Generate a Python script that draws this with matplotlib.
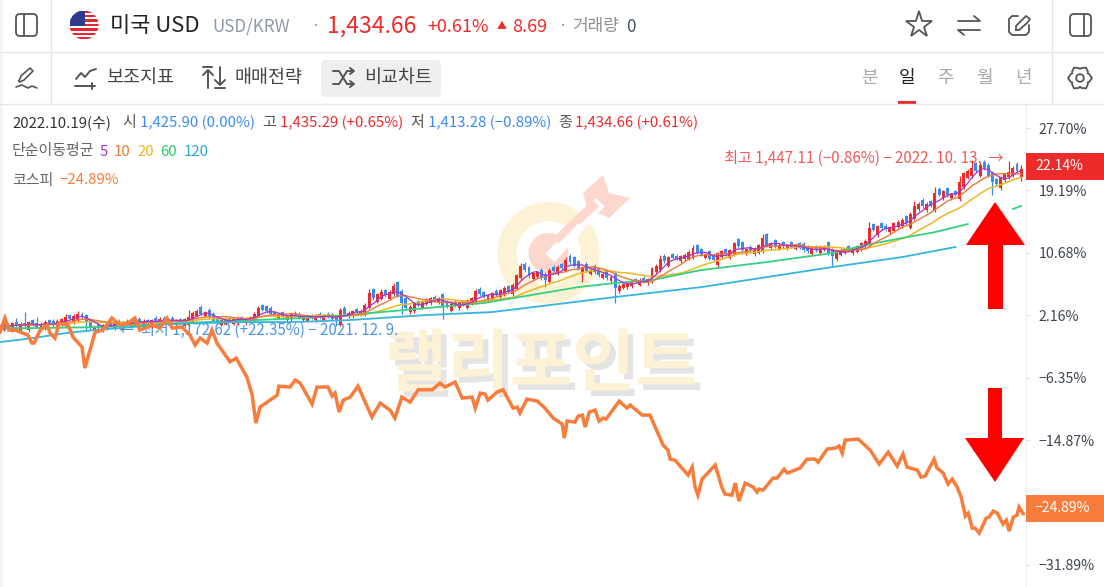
import numpy as np
import pandas as pd
import matplotlib
matplotlib.use('Agg')
import matplotlib.pyplot as plt
import matplotlib.patheffects as pe
from matplotlib.patches import Circle, FancyBboxPatch, Polygon, Rectangle

plt.rcParams['font.family'] = ['Noto Sans CJK KR', 'DejaVu Sans']

RED = '#ee2b2b'
BLUE = '#3a8bf0'
ORANGE = '#f87d3c'

# daily closes in % against the base price, one row per 25 candles
closes = [
    0.6, 0.9, 0.5, 1.1, 0.8, 1.0, 0.7, 1.2, 0.9, 0.6, 1.0, 1.3, 1.1, 0.8, 1.4, 1.6, 1.9, 1.7, 2.1, 2.3, 1.9, 1.2, 0.4, 0.6, 0.5,
    0.8, 1.0, 0.7, 1.1, 0.9, 1.2, 1.0, 1.3, 1.5, 1.2, 1.4, 1.1, 1.5, 1.3, 1.7, 1.4, 1.6, 1.3, 1.5, 1.2, 1.6, 1.9, 2.5, 2.8, 2.4,
    2.6, 1.9, 1.3, 1.2, 1.5, 1.7, 1.4, 1.6, 1.8, 1.5, 1.7, 1.9, 2.4, 3.1, 2.9, 2.7, 2.3, 2.1, 2.2, 1.9, 2.0, 2.3, 2.1, 1.8, 2.0,
    2.0, 1.8, 2.1, 1.9, 2.2, 2.0, 1.7, 1.5, 2.9, 2.4, 2.5, 2.7, 2.6, 2.8, 3.6, 5.2, 4.5, 5.0, 5.3, 4.9, 5.4, 6.2, 4.8, 3.9, 3.2,
    3.3, 3.8, 3.6, 4.1, 4.3, 4.5, 4.3, 4.5, 3.4, 3.3, 3.7, 3.5, 3.8, 3.6, 4.2, 4.5, 5.5, 5.0, 4.7, 4.9, 5.2, 5.0, 5.6, 5.9, 5.4,
    6.3, 7.6, 8.9, 8.3, 7.5, 7.9, 8.0, 7.2, 7.0, 8.4, 8.2, 8.8, 8.6, 9.7, 9.4, 8.9, 8.5, 8.7, 8.2, 8.4, 8.0, 7.6, 7.8, 7.2, 7.4,
    5.9, 6.2, 6.4, 6.5, 6.8, 6.7, 7.0, 6.8, 7.1, 8.6, 8.9, 9.8, 9.5, 10.1, 10.0, 9.9, 10.2, 10.4, 10.8, 11.3, 10.7, 10.4, 10.5, 9.9, 9.7,
    10.6, 10.9, 10.5, 11.0, 12.0, 11.6, 11.0, 11.2, 10.9, 11.3, 11.7, 12.7, 11.8, 12.0, 11.5, 11.8, 11.6, 11.7, 11.5, 11.6, 11.4, 11.0, 10.9, 11.2, 11.0,
    11.5, 11.6, 10.6, 10.2, 10.7, 11.1, 11.2, 11.0, 11.3, 11.6, 12.0, 12.3, 14.1, 13.8, 14.3, 14.0, 13.9, 14.2, 14.7, 14.9, 15.2, 14.7, 16.0, 17.1, 17.4,
    17.0, 17.4, 17.1, 18.9, 18.6, 19.1, 18.5, 18.7, 18.6, 20.3, 21.5, 21.9, 22.3, 21.8, 22.6, 22.2, 21.2, 20.3, 20.0, 21.0, 21.4, 21.7, 22.3, 21.9, 22.14,
]
# candle body heights in %
bodies = [
    0.5, 0.7, 0.4, 1.0, 0.5, 0.9, 0.4, 1.1, 0.6, 0.5, 0.8, 0.9, 0.4, 0.6, 1.0, 0.7, 1.2, 0.5, 0.9, 0.8, 0.5, 1.0, 1.1, 0.4, 0.5,
    0.7, 0.6, 0.4, 0.8, 0.5, 0.9, 0.4, 0.7, 0.6, 0.5, 0.6, 0.4, 0.9, 0.5, 0.8, 0.4, 0.6, 0.5, 0.7, 0.4, 0.9, 1.0, 1.2, 0.7, 0.9,
    0.5, 1.0, 1.1, 0.4, 0.6, 0.7, 0.4, 0.6, 0.7, 0.4, 0.6, 0.5, 1.0, 1.0, 0.6, 0.7, 0.9, 0.5, 0.4, 0.7, 0.5, 0.7, 0.4, 0.6, 0.5,
    0.6, 0.4, 0.6, 0.5, 0.7, 0.4, 0.6, 0.5, 2.0, 0.8, 0.5, 0.7, 0.4, 0.6, 1.3, 2.0, 1.2, 1.0, 0.9, 0.7, 1.0, 1.2, 1.9, 1.6, 1.3,
    0.7, 1.1, 0.5, 0.9, 0.6, 0.7, 0.4, 0.6, 1.6, 0.7, 0.9, 0.5, 0.7, 0.5, 1.0, 0.7, 1.6, 0.8, 0.6, 0.7, 0.8, 0.5, 1.0, 0.9, 0.7,
    1.3, 1.8, 1.6, 0.9, 1.2, 0.8, 0.6, 1.2, 0.8, 1.7, 0.6, 1.0, 0.5, 1.5, 0.9, 1.2, 1.0, 0.6, 1.0, 0.6, 0.9, 1.0, 0.5, 1.1, 0.6,
    2.0, 0.7, 0.5, 0.5, 0.7, 0.4, 0.7, 0.5, 0.6, 1.9, 0.8, 1.5, 0.8, 1.2, 0.5, 0.4, 0.7, 0.6, 0.9, 1.2, 1.0, 0.8, 0.5, 1.0, 0.7,
    1.6, 0.8, 0.7, 1.0, 1.6, 0.9, 1.1, 0.6, 0.6, 0.8, 1.0, 1.8, 1.4, 0.7, 0.9, 0.6, 0.5, 0.5, 0.6, 0.4, 0.6, 0.9, 0.6, 0.7, 0.6,
    0.9, 0.5, 1.5, 1.0, 0.9, 0.7, 0.5, 0.6, 0.7, 0.8, 0.9, 0.7, 2.4, 0.8, 1.2, 0.7, 0.5, 0.7, 1.0, 0.7, 0.9, 1.0, 1.9, 1.8, 0.8,
    0.9, 0.9, 0.6, 2.4, 0.8, 1.0, 1.0, 0.6, 0.5, 2.3, 1.9, 1.0, 1.2, 1.1, 1.4, 0.9, 1.5, 1.3, 0.7, 1.5, 0.8, 0.7, 1.1, 0.9, 1.1,
]

high_days = [4, 6, 9, 16, 19, 46, 63, 90, 93, 96, 127, 138, 161, 169, 186, 212, 215, 223, 228, 234, 237, 239, 243, 246, 249]
high_vals = [1.8, 2.6, 1.9, 2.3, 2.7, 2.9, 3.4, 5.8, 5.7, 6.6, 9.3, 10.1, 10.4, 11.8, 13.2, 14.9, 14.7, 17.8, 19.6, 21.1, 23.3, 23.0, 20.9, 23.2, 22.6]
low_days = [21, 82, 98, 108, 133, 142, 150, 151, 203, 222, 242, 249]
low_vals = [0.0, 0.7, 2.3, 1.6, 6.0, 6.7, 3.8, 5.2, 8.9, 14.2, 18.6, 20.5]

ma60_days = [0, 7, 25, 49, 74, 85, 93, 118, 141, 150, 159, 171, 187, 203, 211, 220, 228, 236, 237, 246, 247, 249]
ma60_vals = [0.41, 0.41, 0.55, 1.2, 1.78, 2.19, 2.6, 3.83, 6.0, 6.56, 6.96, 8.33, 9.42, 10.65, 11.74, 12.7, 13.5, 14.6, np.nan, np.nan, 16.65, 17.06]

ma120_days = [0, 8, 16, 23, 32, 41, 57, 71, 85, 104, 120, 134, 150, 171, 187, 203, 220, 233]
ma120_vals = [-1.5, -0.95, -0.27, 0.14, 0.55, 0.96, 1.23, 1.23, 1.5, 2.19, 2.6, 3.55, 4.65, 6.0, 7.37, 8.74, 10.1, 11.47]

kospi_days = [
    0, 1.2, 2.2, 3.7, 5.6, 6.8, 7.8, 8.3, 9.8, 11.5, 12.2, 13.4, 14.4, 16.6, 17.8, 20, 20.7, 23.2, 25.1, 27.3,
    29.3, 31.2, 32.9, 34.1, 35.9, 37.3, 39, 40.7, 42, 44.4, 46.3, 47.6, 48.8, 50.5, 51.7, 52.9, 56.1, 57.6, 60.2, 61.5,
    62.4, 63.4, 67.6, 68, 70.7, 72, 73.2, 76.1, 77.3, 80, 81, 81.7, 82.7, 83.7, 85.4, 87.3, 90.7, 92.7, 95.1, 96.3,
    98, 100, 102, 105.4, 107.3, 108.5, 111, 112.7, 115.1, 115.9, 117.1, 118.3, 119, 121.2, 122.7, 125.1, 126.1, 126.8, 128.5, 131,
    132.9, 134.9, 137.1, 137.6, 138.3, 140.2, 141, 142, 142.7, 143.7, 145.1, 146.1, 147.1, 147.8, 151, 152.9, 153.7, 156.6, 158.5, 161.7,
    162.9, 163.4, 164.6, 167.8, 168.8, 169.5, 170.2, 171.2, 174.4, 176.1, 176.8, 178.5, 179.3, 180.2, 181.7, 183.7, 184.6, 185.1, 186.1, 188.5,
    189.5, 191.2, 192, 195.1, 196.8, 198.8, 199.5, 201.7, 203.7, 204.6, 205.4, 206.1, 209.3, 212.2, 214.4, 216.6, 218.8, 220.2, 221.2, 223.7,
    224.6, 225.6, 227.8, 228.5, 230, 231.2, 232.2, 233.4, 234.4, 235.4, 236.1, 237.1, 237.8, 238.8, 240.5, 241.2, 242.2, 243.2, 244.6, 245.4,
    246.1, 247.1, 248, 248.5, 249.5,
]
kospi_vals = [
    -0.13, 1.78, 0.14, 0.14, -0.27, -0.54, -1.63, -1.63, 0.14, 0.82, -0.27, -0.95, 1.1, 0.82, -0.81, -2.18, -5.04, -0.13, 0.14, 1.78,
    0.82, 1.1, 1.78, 0.14, 0.55, 0.82, 0.41, 1.78, 0.41, 0.55, -0.54, -1.9, -0.95, -1.63, 0.14, -1.63, -4.2, -3.68, -6.27, -8.73,
    -12.55, -10.36, -8.73, -7.5, -7.63, -6.68, -7.09, -9.95, -7.63, -7.63, -8.86, -8.45, -11.04, -9.41, -9.0, -7.5, -11.73, -9.82, -10.77, -11.86,
    -9.0, -9.68, -8.0, -8.0, -7.09, -7.63, -6.95, -9.14, -9.0, -10.5, -8.45, -8.59, -9.41, -8.32, -8.0, -10.5, -10.36, -11.18, -9.27, -9.54,
    -10.5, -11.86, -12.68, -14.59, -12.27, -12.41, -11.59, -11.45, -13.09, -11.04, -10.77, -12.27, -11.86, -12.0, -9.55, -10.5, -10.09, -11.45, -11.45, -15.55,
    -16.23, -17.46, -17.6, -19.64, -18.55, -21.27, -22.37, -20.18, -18.27, -21.41, -22.23, -22.37, -20.73, -23.18, -20.73, -21.27, -21.96, -21.55, -21.68, -20.05,
    -20.05, -18.82, -19.36, -18.68, -17.46, -17.46, -17.87, -16.09, -15.96, -15.68, -16.64, -14.86, -14.73, -16.23, -18.14, -16.5, -18.41, -16.77, -18.55, -18.96,
    -19.91, -19.77, -17.46, -18.68, -19.36, -20.86, -20.18, -21.27, -22.64, -25.23, -24.82, -26.87, -26.87, -27.55, -25.5, -25.37, -24.55, -24.82, -26.32, -25.78,
    -27.27, -25.37, -25.1, -24.0, -24.89,
]

y_ticks = [27.70, 19.19, 10.68, 2.16, -6.35, -14.87, -31.89]
y_labels = ['27.70%', '19.19%', '10.68%', '2.16%', '−6.35%', '−14.87%', '−31.89%']


def line(ax, xs, ys, color='#555555', lw=1.3, **kw):
    ax.plot(xs, ys, color=color, lw=lw, solid_capstyle='round', solid_joinstyle='round', **kw)


def round_box(ax, x, y, w, h, r, fc='none', ec='#555555', lw=1.3):
    ax.add_patch(FancyBboxPatch((x + r, y + r), w - 2 * r, h - 2 * r,
                                boxstyle='round,pad=%g,rounding_size=%g' % (r, r),
                                fc=fc, ec=ec, lw=lw))


def label(ax, x, y, s, size, color='#333333', **kw):
    kw.setdefault('va', 'center')
    kw.setdefault('ha', 'left')
    # size is given in pixels, the figure is 100 dpi. CJK fonts sit high, hence the 1.5
    ax.text(x, y + 1.5, s, fontsize=size * 0.72, color=color, **kw)


def draw_flag(ax, cx, cy, r):
    clip = Circle((cx, cy), r, transform=ax.transData)
    ax.add_patch(Rectangle((cx - r, cy - r), 2 * r, 2 * r, fc='white', ec='none', clip_path=clip))
    step = 2 * r / 13
    for k in range(0, 13, 2):
        ax.add_patch(Rectangle((cx - r, cy - r + k * step), 2 * r, step, fc='#e8262d', ec='none', clip_path=clip))
    ax.add_patch(Rectangle((cx - r, cy - r), r * 1.05, step * 7, fc='#2f3a8f', ec='none', clip_path=clip))


def draw_icons(ax):
    # header
    round_box(ax, 16, 14, 21, 22, 4)
    line(ax, [23.5, 23.5], [14, 36])
    round_box(ax, 1070, 14, 21, 22, 4)
    line(ax, [1084, 1084], [14, 36])
    ax.plot([919], [25], marker='*', ms=20, mfc='none', mec='#555555', mew=1.3)
    line(ax, [958, 980, 974], [21, 21, 16])
    line(ax, [980, 958, 964], [30, 30, 35])
    line(ax, [1018, 1012, 1009, 1009, 1012, 1026, 1029, 1029], [16, 16, 19, 32, 35, 35, 32, 25])
    line(ax, [1016, 1016, 1026, 1030, 1027, 1019, 1016], [30, 26, 16, 19, 23, 30, 30])
    # toolbar
    line(ax, [19, 21, 30, 33, 24, 20, 19], [81, 76, 68, 71, 80, 82, 81], lw=1.2)
    line(ax, [16, 22, 28, 32, 37], [87, 85, 88, 86, 88], lw=1.2)
    line(ax, [76, 81, 85, 90, 96], [79, 73, 77, 71, 69], lw=1.4)
    line(ax, [75, 88], [86, 86], lw=1.4)
    line(ax, [92, 92], [83, 89], lw=1.4)
    line(ax, [89, 95], [86, 86], lw=1.4)
    line(ax, [208, 208], [71, 88], lw=1.4)
    line(ax, [203, 208, 213], [75, 70, 75], lw=1.4)
    line(ax, [203, 212], [67, 67], lw=1.4)
    line(ax, [220, 220], [67, 84], lw=1.4)
    line(ax, [215, 220, 225], [80, 85, 80], lw=1.4)
    line(ax, [215, 225], [88, 88], lw=1.4)
    line(ax, [333, 339, 347, 353], [71, 71, 84, 84], lw=1.4)
    line(ax, [333, 339, 347, 353], [84, 84, 71, 71], lw=1.4)
    line(ax, [350, 354, 350], [68, 71, 74], lw=1.4)
    line(ax, [350, 354, 350], [81, 84, 87], lw=1.4)
    # settings gear
    ang = np.linspace(0, 2 * np.pi, 49)
    rad = 10.5 - 1.5 * np.cos(6 * ang) ** 3
    ax.plot(1080 + rad * np.sin(ang), 78 + rad * np.cos(ang), color='#555555', lw=1.3)
    ax.add_patch(Circle((1080, 78), 3.8, fc='none', ec='#555555', lw=1.3))


def draw_watermark(ax):
    ax.add_patch(Circle((548.5, 253), 41.5, fc='none', ec='#fdf2d5', lw=13.7))
    ax.add_patch(Circle((548.5, 253), 20, fc='#fdd6cd', ec='none'))
    ax.plot([550, 600], [258, 202], color='white', lw=9, solid_capstyle='butt')
    ax.plot([556, 596], [241, 203], color='#fdd6cd', lw=6.5, solid_capstyle='butt')
    ax.plot([553, 580], [253, 225], color='white', lw=3.5, solid_capstyle='butt')
    ax.add_patch(Polygon([[583, 193], [603, 175], [609, 193], [630, 198], [609, 218], [587, 208]],
                         fc='#fdd6cd', ec='none'))
    ax.text(541, 366, '랠리포인트', fontsize=49, fontweight='bold', color='#fdf2d5',
            ha='center', va='center',
            path_effects=[pe.withSimplePatchShadow(offset=(4, -4), shadow_rgbFace='#e4e4e4', alpha=1)])


fig = plt.figure(figsize=(11.04, 5.87), dpi=100)
fig.patch.set_facecolor('white')

# (1) pixel layer below the chart: page furniture and watermark
ui = fig.add_axes([0, 0, 1, 1], zorder=0)
ui.set_xlim(0, 1104)
ui.set_ylim(587, 0)
ui.axis('off')

ui.add_patch(Rectangle((0, 0), 2, 587, fc='#f3f3f3', ec='none'))
ui.add_patch(Rectangle((2, 0), 2, 587, fc='#fafafa', ec='none'))
for yy in (52, 104):
    line(ui, [0, 1104], [yy, yy], color='#e6e6e6', lw=1)
line(ui, [51, 51], [0, 104], color='#e6e6e6', lw=1)
line(ui, [1052, 1052], [0, 104], color='#e6e6e6', lw=1)

draw_flag(ui, 84, 25, 14.5)
draw_icons(ui)
draw_watermark(ui)

label(ui, 110, 24.5, '미국 USD', 22, '#222222', fontweight='medium')
label(ui, 212, 25, 'USD/KRW', 17, '#8f99a5')
label(ui, 312, 24, '·', 15, '#888888')
label(ui, 327, 25, '1,434.66', 23, RED)
label(ui, 427, 25, '+0.61%', 18, RED)
label(ui, 497, 25, '▲', 10, RED)
label(ui, 512, 25, '8.69', 18, RED)
label(ui, 559, 24, '·', 15, '#888888')
label(ui, 572, 25, '거래량', 17, '#8f8f8f')
label(ui, 626, 25, '0', 17, '#445566')

ui.add_patch(FancyBboxPatch((325, 64), 112, 29, boxstyle='round,pad=4,rounding_size=5', fc='#efefef', ec='none'))
label(ui, 106, 77, '보조지표', 18.5, '#444444')
label(ui, 235, 77, '매매전략', 18.5, '#444444')
label(ui, 364, 77, '비교차트', 18.5, '#444444')
for xx, s in zip((869, 945, 984, 1023), '분주월년'):
    label(ui, xx, 77, s, 18, '#a9a9a9', ha='center')
label(ui, 907, 77, '일', 18, '#222222', ha='center', fontweight='medium')
ui.add_patch(Rectangle((898, 101), 18, 3, fc=RED, ec='none'))

label(ui, 12, 121.5, '2022.10.19(수)', 15, '#333333')
label(ui, 122, 121.5, '시', 15, '#555555')
label(ui, 140, 121.5, '1,425.90 (0.00%)', 15, BLUE)
label(ui, 262, 121.5, '고', 15, '#555555')
label(ui, 280, 121.5, '1,435.29 (+0.65%)', 15, RED)
label(ui, 410, 121.5, '저', 15, '#555555')
label(ui, 428, 121.5, '1,413.28 (−0.89%)', 15, BLUE)
label(ui, 558, 121.5, '종', 15, '#555555')
label(ui, 575, 121.5, '1,434.66 (+0.61%)', 15, RED)

label(ui, 12, 150, '단순이동평균', 15, '#666666')
label(ui, 100, 150, '5', 15, '#a834cf')
label(ui, 114, 150, '10', 15, '#ee7a35')
label(ui, 137, 150, '20', 15, '#e8b923')
label(ui, 160, 150, '60', 15, '#2cc96b')
label(ui, 184, 150, '120', 15, '#2aa9d8')
label(ui, 12, 179, '코스피', 15, '#666666')
label(ui, 59, 179, '−24.89%', 15, ORANGE)

# (2) chart axes, one unit on x is one trading day
ax = fig.add_axes([0, 0, 1026 / 1104, 482 / 587], zorder=1)
ax.patch.set_alpha(0)
ax.set_xlim(0, 250.2)
ax.set_ylim(-34.9, 30.84)
for side in ('top', 'left', 'bottom'):
    ax.spines[side].set_visible(False)
ax.spines['right'].set_color('#eeeeee')
ax.set_xticks([])
ax.yaxis.tick_right()
ax.set_yticks(y_ticks)
ax.set_yticklabels(y_labels)
ax.tick_params(axis='y', length=3, width=0.8, color='#dddddd', pad=6, labelsize=10.2, labelcolor='#3f4650')

closes = np.array(closes)
bodies = np.array(bodies)
days = np.arange(len(closes))
rising = closes >= np.r_[closes[0], closes[:-1]]
opens = np.where(rising, closes - bodies, closes + bodies)
colors = [RED if r else BLUE for r in rising]

ax.text(29, 0.14, '←  최저 1,172.62 (+22.35%) − 2021. 12. 9.', fontsize=10.9, color='#4a94ee', va='center', zorder=1)
ax.text(176.6, 23.6, '최고 1,447.11 (−0.86%) − 2022. 10. 13.  →', fontsize=10.9, color='#ef5a5a', va='center', zorder=1)

highs = np.maximum(opens, closes)
lows = np.minimum(opens, closes)
ax.vlines(days, lows - 0.2, highs + 0.2, colors=colors, lw=0.8, zorder=2)
for d, v in zip(high_days, high_vals):
    ax.vlines(d, highs[d], v, colors=colors[d], lw=0.9, zorder=2)
for d, v in zip(low_days, low_vals):
    ax.vlines(d, v, lows[d], colors=colors[d], lw=0.9, zorder=2)
ax.bar(days, highs - lows, bottom=lows, width=0.72, color=colors, lw=0, zorder=3)

close_s = pd.Series(closes)
ax.plot(days, close_s.rolling(20, min_periods=1).mean(), color='#e8b923', lw=1.1, zorder=4)
ax.plot(days, close_s.rolling(10, min_periods=1).mean(), color='#ee7a35', lw=1.0, zorder=5)
ax.plot(days, close_s.rolling(5, min_periods=1).mean(), color='#a834cf', lw=0.9, zorder=6)
ax.plot(ma60_days, ma60_vals, color='#35d07f', lw=1.3, zorder=4)
ax.plot(ma120_days, ma120_vals, color='#35b5e0', lw=1.3, zorder=4)

ax.plot(kospi_days, kospi_vals, color=ORANGE, lw=2.5, solid_joinstyle='miter', zorder=7)

# (3) pixel layer on top: hand drawn arrows and value badges
over = fig.add_axes([0, 0, 1, 1], zorder=2)
over.set_xlim(0, 1104)
over.set_ylim(587, 0)
over.axis('off')
over.add_patch(Polygon([[995, 202], [1025, 245], [1003, 245], [1003, 309], [988, 309], [988, 245], [966, 245]],
                       fc='#ff0000', ec='none'))
over.add_patch(Polygon([[995, 482], [1024, 438], [1002, 438], [1002, 388], [988, 388], [988, 438], [965, 438]],
                       fc='#ff0000', ec='none'))
over.add_patch(Rectangle((1026, 153), 78, 27, fc=RED, ec='none'))
label(over, 1035, 165, '22.14%', 14, 'white')
over.add_patch(Rectangle((1026, 495), 78, 27, fc=ORANGE, ec='none'))
label(over, 1034, 507, '−24.89%', 14, 'white')

fig.savefig('out.png', dpi=100)
